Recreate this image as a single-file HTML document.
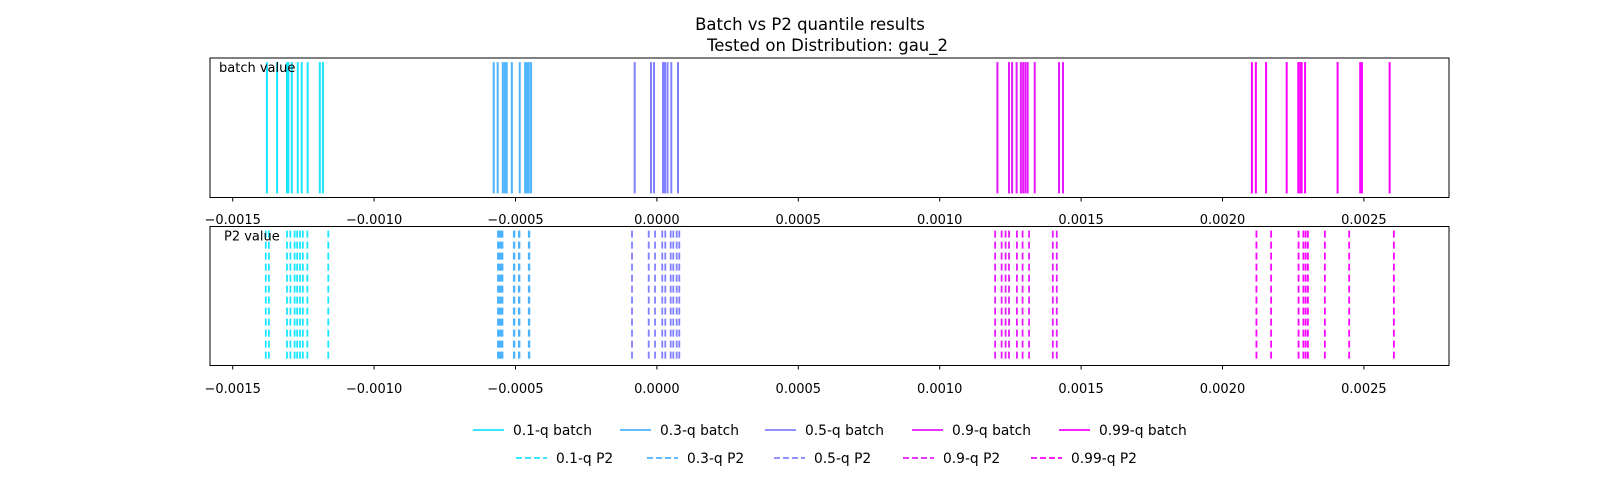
<!DOCTYPE html>
<html><head><meta charset="utf-8"><style>
html,body{margin:0;padding:0;background:#fff;}
svg{display:block;font-family:"DejaVu Sans","Liberation Sans",sans-serif;}
</style></head><body>
<svg id="chart" width="1620" height="481" viewBox="0 0 1620 481">
<text x="810" y="30" text-anchor="middle" font-size="16.5">Batch vs P2 quantile results</text>
<text x="707" y="51" text-anchor="start" font-size="16.5">Tested on Distribution: gau_2</text>
<g id="top"></g>
<g id="bot"></g>
<g id="legend"></g>
</svg>
<script>
const quantileLabels = ["0.1-q","0.3-q","0.5-q","0.9-q","0.99-q"];
const colors = ["#1ae6ff","#4db3ff","#8080ff","#e61aff","#fc03ff"];
const batchQ10 = [-0.001379,-0.001343,-0.001308,-0.001303,-0.001291,-0.001270,-0.001256,-0.001235,-0.001192,-0.001181];
const batchQ30 = [-0.000577,-0.000563,-0.000545,-0.000538,-0.000531,-0.000513,-0.000485,-0.000466,-0.000459,-0.000453,-0.000445];
const batchQ50 = [-0.0000785,-0.0000209,-0.0000103,0.0000216,0.0000286,0.0000375,0.0000509,0.0000746];
const batchQ90 = [0.001204,0.001245,0.001256,0.001272,0.001287,0.001295,0.001303,0.001311,0.001336,0.001422,0.001436];
const batchQ99 = [0.002104,0.002118,0.002154,0.002227,0.002268,0.002275,0.002280,0.002292,0.002407,0.002487,0.002493,0.002591];
const p2Q10 = [-0.001383,-0.001372,-0.001308,-0.001296,-0.001281,-0.001272,-0.001262,-0.001252,-0.001236,-0.001162];
const p2Q30 = [-0.000562,-0.000558,-0.000555,-0.000550,-0.000546,-0.000506,-0.000504,-0.000488,-0.000486,-0.000453,-0.000451];
const p2Q50 = [-0.000088,-0.000029,-0.0000067,0.000019,0.0000297,0.0000488,0.000058,0.00007,0.0000792];
const p2Q90 = [0.001196,0.001219,0.001233,0.001245,0.001273,0.001293,0.001316,0.0014,0.001414];
const p2Q99 = [0.00212,0.002172,0.002269,0.002286,0.002294,0.002302,0.002362,0.002448,0.002606];
const tickValues = [-0.0015,-0.001,-0.0005,0,0.0005,0.001,0.0015,0.002,0.0025];
const tickLabels = ["\u22120.0015","\u22120.0010","\u22120.0005","0.0000","0.0005","0.0010","0.0015","0.0020","0.0025"];

const NS="http://www.w3.org/2000/svg";
const X0=210, X1=1449;
function xScale(v){return 656.9 + v*282800;}
function mk(tag,attrs,parent){const e=document.createElementNS(NS,tag);for(const k in attrs)e.setAttribute(k,attrs[k]);parent.appendChild(e);return e;}

const batchSeries=[batchQ10,batchQ30,batchQ50,batchQ90,batchQ99];
const p2Series=[p2Q10,p2Q30,p2Q50,p2Q90,p2Q99];

function panel(g,top,bottom,series,dashed,label,labelX,tickLabelY,name){
  const h=bottom-top;
  const y1=top+h*0.03, y2=bottom-h*0.03;
  series.forEach((arr,i)=>{
    arr.forEach(v=>{
      const l=mk('line',{x1:xScale(v),x2:xScale(v),y1:y1,y2:y2,stroke:colors[i],'stroke-width':dashed?1.8:2},g);
      if(dashed)l.setAttribute('stroke-dasharray','7 4');
      
      
    });
  });
  const r=mk('rect',{x:X0,y:top,width:X1-X0,height:h,fill:'none',stroke:'#000','stroke-width':1},g);
  
  
  tickValues.forEach((v,i)=>{
    const x=xScale(v);
    const t=mk('line',{x1:x,x2:x,y1:bottom,y2:bottom+4,stroke:'#000','stroke-width':1},g);
    
    
    const tl=mk('text',{x:x,y:tickLabelY,'text-anchor':'middle','font-size':13},g);
    tl.textContent=tickLabels[i];
    
    
  });
  const lb=mk('text',{x:labelX,y:top+14,'font-size':13},g);
  lb.textContent=label;
  
  
}
panel(document.getElementById('top'),58,197.5,batchSeries,false,'batch value',219,224,'batch');
panel(document.getElementById('bot'),226.5,365.5,p2Series,true,'P2 value',224,393,'p2');

const lg=document.getElementById('legend');
const row1X=[473,620,765,912,1059];
const row2X=[516,647,774,903,1031];
quantileLabels.forEach((q,i)=>{
  let l=mk('line',{x1:row1X[i],x2:row1X[i]+31,y1:430,y2:430,stroke:colors[i],'stroke-width':1.8},lg);
  
  
  let t=mk('text',{x:row1X[i]+40,y:435,'font-size':13.8},lg);
  t.textContent=q+' batch';
  
  
  l=mk('line',{x1:row2X[i],x2:row2X[i]+31,y1:458,y2:458,stroke:colors[i],'stroke-width':1.8,'stroke-dasharray':'6 3'},lg);
  
  
  t=mk('text',{x:row2X[i]+40,y:463,'font-size':13.8},lg);
  t.textContent=q+' P2';
  
  
});
</script>
</body></html>
